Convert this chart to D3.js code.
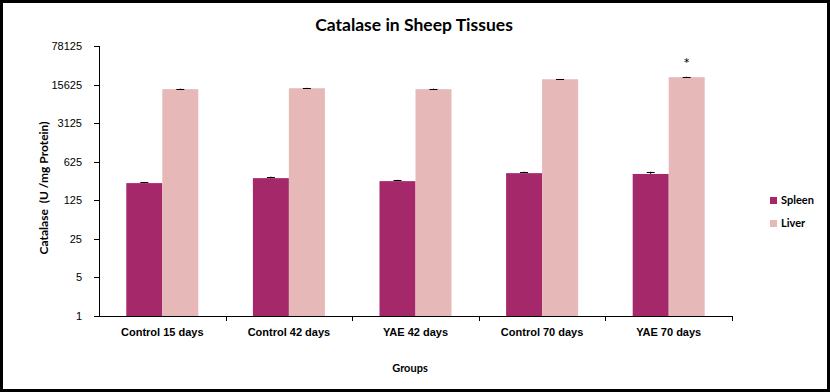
<!DOCTYPE html>
<html>
<head>
<meta charset="utf-8">
<title>Catalase in Sheep Tissues</title>
<script src="https://cdn.jsdelivr.net/npm/d3@7"></script>
<style>
  body { margin: 0; background: #fff; }
  svg { display: block; font-family: Lato, "Open Sans", sans-serif; }
  .axis path, .axis line { stroke: #000; shape-rendering: crispEdges; }
  .axis text { fill: #000; font-size: 11px; }
</style>
</head>
<body>
<script>
// values
var groups = ["Control 15 days", "Control 42 days", "YAE 42 days", "Control 70 days", "YAE 70 days"];
var series = ["Spleen", "Liver"];
var spleen = [256, 315, 278, 388, 375];
var spleenErr = [10, 20, 15, 25, 37];
var liver = [12900, 13400, 12900, 19500, 21300];
var liverErr = [300, 250, 300, 300, 400];
var yTicks = [1, 5, 25, 125, 625, 3125, 15625, 78125];
var colors = ["#A4286A", "#E6B9B8"];

var width = 830, height = 392;
var margin = {left: 99, right: 98, top: 46, bottom: 76};

var svg = d3.select("body").append("svg")
  .attr("width", width)
  .attr("height", height);

svg.append("rect")
  .attr("x", 1.5).attr("y", 1.5)
  .attr("width", width - 3).attr("height", height - 3)
  .attr("fill", "#fff").attr("stroke", "#000").attr("stroke-width", 3);

var x = d3.scaleBand()
  .domain(groups)
  .range([margin.left, width - margin.right]);

var x1 = d3.scaleBand()
  .domain(series)
  .range([0, 72]);

var y = d3.scaleLog().base(5)
  .domain([1, 78125])
  .range([height - margin.bottom, margin.top]);

// title
svg.append("text")
  .attr("x", 414).attr("y", 31)
  .attr("text-anchor", "middle")
  .style("font-size", "17.5px").style("font-weight", "bold")
  .text("Catalase in Sheep Tissues");

// bars
var rows = groups.map(function(g, i) {
  return [
    {g: g, s: "Spleen", v: spleen[i], e: spleenErr[i]},
    {g: g, s: "Liver", v: liver[i], e: liverErr[i]}
  ];
});

var grp = svg.append("g").selectAll("g")
  .data(rows)
  .enter().append("g")
  .attr("transform", function(d) {
    return "translate(" + (x(d[0].g) + (x.bandwidth() - 72) / 2) + ",0)";
  });

grp.selectAll("rect")
  .data(function(d) { return d; })
  .enter().append("rect")
  .attr("x", function(d) { return x1(d.s); })
  .attr("width", x1.bandwidth())
  .attr("y", function(d) { return y(d.v); })
  .attr("height", function(d) { return y(1) - y(d.v); })
  .attr("fill", function(d, i) { return colors[i]; });

// error bars (upper only)
grp.selectAll("line.err")
  .data(function(d) { return d; })
  .enter().append("line")
  .attr("class", "err")
  .attr("x1", function(d) { return x1(d.s) + x1.bandwidth() / 2; })
  .attr("x2", function(d) { return x1(d.s) + x1.bandwidth() / 2; })
  .attr("y1", function(d) { return y(d.v); })
  .attr("y2", function(d) { return y(d.v + d.e); })
  .attr("stroke", "#000");

grp.selectAll("line.cap")
  .data(function(d) { return d; })
  .enter().append("line")
  .attr("class", "cap")
  .attr("x1", function(d) { return x1(d.s) + x1.bandwidth() / 2 - 4; })
  .attr("x2", function(d) { return x1(d.s) + x1.bandwidth() / 2 + 4; })
  .attr("y1", function(d) { return Math.round(y(d.v + d.e)) + 0.5; })
  .attr("y2", function(d) { return Math.round(y(d.v + d.e)) + 0.5; })
  .attr("stroke", "#000");

// significance mark
var last = groups.length - 1;
svg.append("text")
  .attr("x", x(groups[last]) + (x.bandwidth() - 72) / 2 + x1("Liver") + x1.bandwidth() / 2)
  .attr("y", y(liver[last] + liverErr[last]) - 8)
  .attr("text-anchor", "middle")
  .style("font-size", "16px")
  .text("*");

// axes
var yAxis = svg.append("g")
  .attr("class", "axis")
  .attr("transform", "translate(" + margin.left + ",0)")
  .call(d3.axisLeft(y).tickValues(yTicks).tickFormat(d3.format("d")).tickSizeOuter(0).tickSize(5).tickPadding(12));

var xAxis = svg.append("g")
  .attr("class", "axis")
  .attr("transform", "translate(0," + (height - margin.bottom) + ")")
  .call(d3.axisBottom(x).tickSize(0).tickPadding(12));
xAxis.select(".domain").remove();
xAxis.selectAll("text").style("font-weight", "bold");

svg.append("line")
  .attr("x1", margin.left).attr("x2", width - margin.right)
  .attr("y1", height - margin.bottom + 0.5).attr("y2", height - margin.bottom + 0.5)
  .attr("stroke", "#000");

svg.append("g").selectAll("line")
  .data(groups.slice(1).concat(["end"]))
  .enter().append("line")
  .attr("x1", function(d) { return Math.round(d === "end" ? x.range()[1] : x(d)) + 0.5; })
  .attr("x2", function(d) { return Math.round(d === "end" ? x.range()[1] : x(d)) + 0.5; })
  .attr("y1", height - margin.bottom)
  .attr("y2", height - margin.bottom + 5)
  .attr("stroke", "#000");

// axis titles
svg.append("text")
  .attr("transform", "translate(48," + 188 + ") rotate(-90)")
  .attr("text-anchor", "middle")
  .style("font-size", "12px").style("font-weight", "bold")
  .style("white-space", "pre")
  .text("Catalase  (U /mg Protein)");

svg.append("text")
  .attr("x", 410).attr("y", 372)
  .attr("text-anchor", "middle")
  .style("font-size", "11px").style("font-weight", "bold")
  .text("Groups");

// legend
var legend = svg.append("g").selectAll("g")
  .data(series)
  .enter().append("g")
  .attr("transform", function(d, i) { return "translate(770," + (197 + i * 23) + ")"; });

legend.append("rect")
  .attr("width", 7).attr("height", 7)
  .attr("fill", function(d, i) { return colors[i]; });

legend.append("text")
  .attr("x", 11).attr("y", 7)
  .style("font-size", "11px").style("font-weight", "bold")
  .text(function(d) { return d; });
</script>
</body>
</html>
